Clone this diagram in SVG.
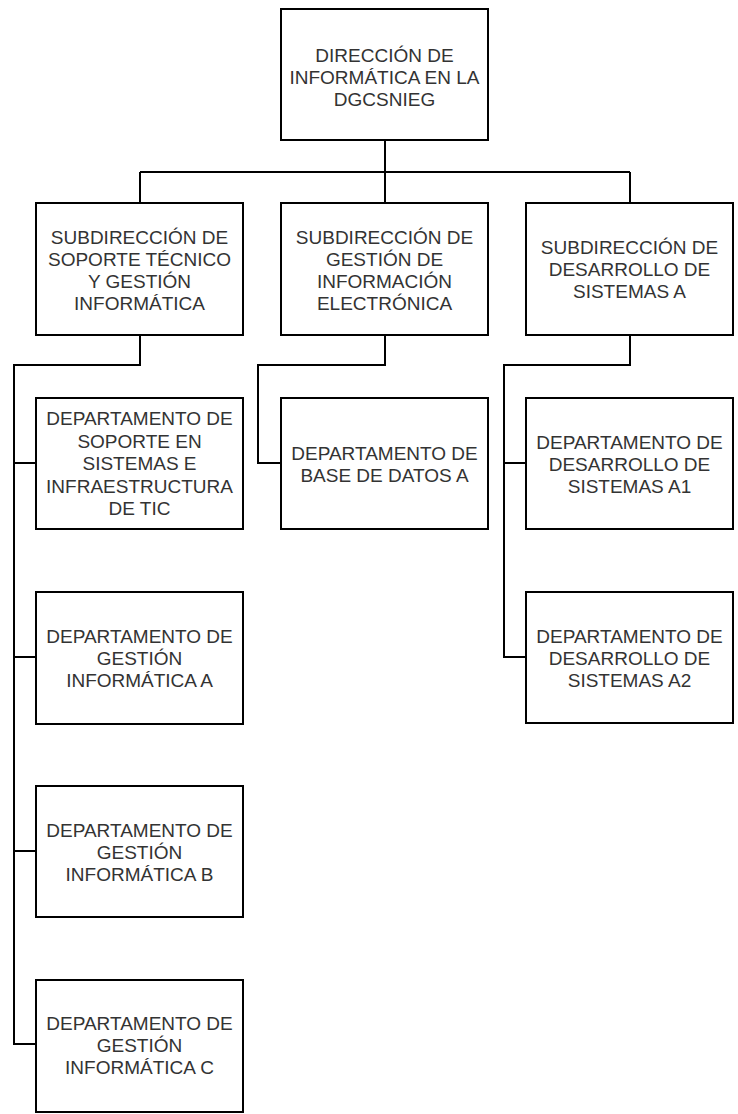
<svg xmlns="http://www.w3.org/2000/svg" width="738" height="1114" viewBox="0 0 738 1114">
<style>
.box{fill:#fff;stroke:#000;stroke-width:2}
.lbl{font-family:"Liberation Sans",Arial,sans-serif;font-size:19px;fill:#333;text-anchor:middle}
.con{fill:none;stroke:#000;stroke-width:2}
</style>
<rect width="738" height="1114" fill="#fff"/>
<g id="connectors">
<path class="con" d="M385 140V172M140 172H630M140 172V203M385 172V203M630 172V203"/>
<path class="con" d="M140 335V365H14V1044H36M14 463H36M14 657H36M14 851H36"/>
<path class="con" d="M385 335V365H258V463H281"/>
<path class="con" d="M630 335V365H504V657H526M504 463H526"/>
</g>
<g id="n-direccion">
<rect class="box" x="281" y="9" width="207" height="131"/>
<text class="lbl" x="384.5" y="62">DIRECCIÓN DE</text>
<text class="lbl" x="384.5" y="84">INFORMÁTICA EN LA</text>
<text class="lbl" x="384.5" y="106">DGCSNIEG</text>
</g>
<g id="n-sub-soporte">
<rect class="box" x="36" y="203" width="207" height="132"/>
<text class="lbl" x="139.5" y="244">SUBDIRECCIÓN DE</text>
<text class="lbl" x="139.5" y="266">SOPORTE TÉCNICO</text>
<text class="lbl" x="139.5" y="288">Y GESTIÓN</text>
<text class="lbl" x="139.5" y="310">INFORMÁTICA</text>
</g>
<g id="n-sub-gestion">
<rect class="box" x="281" y="203" width="207" height="132"/>
<text class="lbl" x="384.5" y="244">SUBDIRECCIÓN DE</text>
<text class="lbl" x="384.5" y="266">GESTIÓN DE</text>
<text class="lbl" x="384.5" y="288">INFORMACIÓN</text>
<text class="lbl" x="384.5" y="310">ELECTRÓNICA</text>
</g>
<g id="n-sub-desarrollo">
<rect class="box" x="526" y="203" width="207" height="132"/>
<text class="lbl" x="629.5" y="254">SUBDIRECCIÓN DE</text>
<text class="lbl" x="629.5" y="276">DESARROLLO DE</text>
<text class="lbl" x="629.5" y="298">SISTEMAS A</text>
</g>
<g id="n-dep-soporte">
<rect class="box" x="36" y="398" width="207" height="131"/>
<text class="lbl" x="139.5" y="425">DEPARTAMENTO DE</text>
<text class="lbl" x="139.5" y="447.5">SOPORTE EN</text>
<text class="lbl" x="139.5" y="470">SISTEMAS E</text>
<text class="lbl" x="139.5" y="492.5">INFRAESTRUCTURA</text>
<text class="lbl" x="139.5" y="515">DE TIC</text>
</g>
<g id="n-dep-gest-a">
<rect class="box" x="36" y="592" width="207" height="132"/>
<text class="lbl" x="139.5" y="643">DEPARTAMENTO DE</text>
<text class="lbl" x="139.5" y="665">GESTIÓN</text>
<text class="lbl" x="139.5" y="687">INFORMÁTICA A</text>
</g>
<g id="n-dep-gest-b">
<rect class="box" x="36" y="786" width="207" height="131"/>
<text class="lbl" x="139.5" y="837">DEPARTAMENTO DE</text>
<text class="lbl" x="139.5" y="859">GESTIÓN</text>
<text class="lbl" x="139.5" y="881">INFORMÁTICA B</text>
</g>
<g id="n-dep-gest-c">
<rect class="box" x="36" y="980" width="207" height="132"/>
<text class="lbl" x="139.5" y="1030">DEPARTAMENTO DE</text>
<text class="lbl" x="139.5" y="1052">GESTIÓN</text>
<text class="lbl" x="139.5" y="1074">INFORMÁTICA C</text>
</g>
<g id="n-dep-base">
<rect class="box" x="281" y="398" width="207" height="131"/>
<text class="lbl" x="384.5" y="460">DEPARTAMENTO DE</text>
<text class="lbl" x="384.5" y="482">BASE DE DATOS A</text>
</g>
<g id="n-dep-a1">
<rect class="box" x="526" y="398" width="207" height="131"/>
<text class="lbl" x="629.5" y="449">DEPARTAMENTO DE</text>
<text class="lbl" x="629.5" y="471">DESARROLLO DE</text>
<text class="lbl" x="629.5" y="493">SISTEMAS A1</text>
</g>
<g id="n-dep-a2">
<rect class="box" x="526" y="592" width="207" height="131"/>
<text class="lbl" x="629.5" y="643">DEPARTAMENTO DE</text>
<text class="lbl" x="629.5" y="665">DESARROLLO DE</text>
<text class="lbl" x="629.5" y="687">SISTEMAS A2</text>
</g>
</svg>
